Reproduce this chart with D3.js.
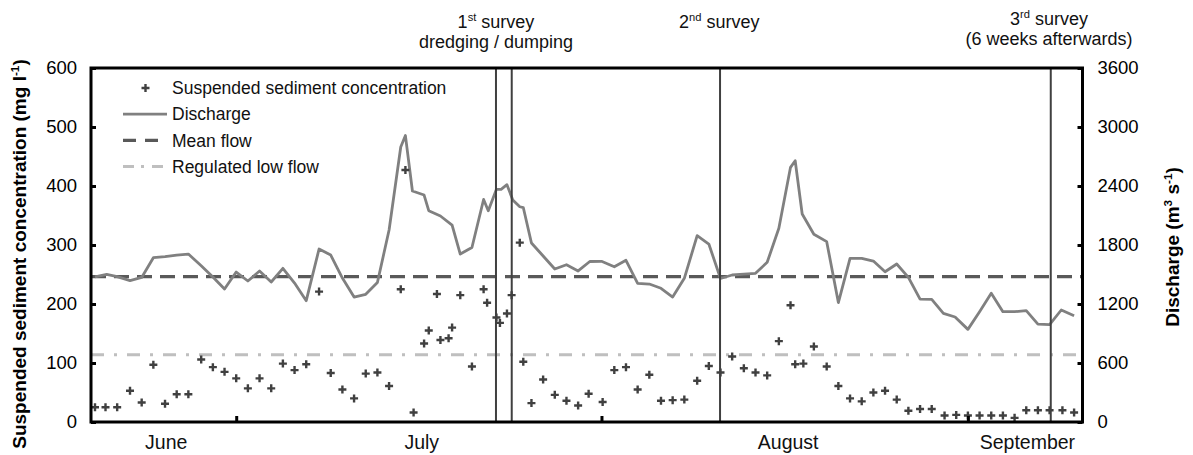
<!DOCTYPE html>
<html lang="en">
<head>
  <meta charset="UTF-8">
  <title>Suspended sediment concentration and discharge</title>
  <script src="https://d3js.org/d3.v7.min.js"></script>
  <style>
    body { margin: 0; background: #fff; }
    svg { display: block; font-family: "Liberation Sans", Arial, sans-serif; }
  </style>
</head>
<body>
<div id="chart"></div>
<script>
  // suspended sediment samples: day of record and concentration (mg l-1)
  var sscDays = [0, 0.9, 1.9, 3, 4, 5, 6, 7, 8, 9.1, 10.1, 11.1, 12.1, 13.1, 14.1, 15.1, 16.1, 17.1, 18.1,
    19.2, 20.2, 21.2, 22.2, 23.2, 24.2, 25.2, 26.2, 26.6, 27.3, 28.2, 28.6, 29.3, 29.6, 30.3, 30.6, 31.3,
    32.3, 33.3, 33.6, 34.4, 34.7, 35.3, 35.7, 36.4, 36.7, 37.4, 38.4, 39.4, 40.4, 41.4, 42.3, 43.5, 44.5,
    45.5, 46.5, 47.5, 48.5, 49.5, 50.5, 51.6, 52.6, 53.6, 54.6, 55.6, 56.6, 57.6, 58.6, 59.6, 60, 60.7,
    61.6, 62.7, 63.7, 64.7, 65.7, 66.7, 67.7, 68.7, 69.7, 70.7, 71.7, 72.8, 73.8, 74.8, 75.8, 76.8, 77.8,
    78.8, 79.8, 80.8, 81.8, 82.9, 83.9];
  var sscValues = [25, 25, 25, 53, 33, 97, 31, 47, 47, 106, 93, 85, 74, 57, 74, 57, 99, 88, 98,
    221, 83, 55, 40, 82, 84, 61, 225, 427, 16, 133, 155, 217, 139, 142, 160, 215,
    94, 225, 202, 177, 168, 184, 215, 304, 102, 32, 72, 46, 36, 28, 48, 34, 88,
    93, 55, 80, 36, 37, 38, 70, 95, 84, 111, 91, 84, 79, 137, 198, 98, 99,
    128, 94, 61, 40, 35, 50, 53, 38, 19, 22, 22, 11, 12, 11, 11, 11, 11,
    7, 20, 20, 20, 20, 16];

  // discharge (m3 s-1)
  var flowDays = [0, 1, 1.9, 3, 4, 5, 6, 7, 8, 9.1, 10.1, 11.1, 12.1, 13.1, 14.1, 15.1, 16.1, 17.1, 18.1,
    19.2, 20.2, 21.2, 22.2, 23.2, 24.2, 25.2, 26.2, 26.6, 27.2, 28.2, 28.6, 29.6, 30.6, 31.3, 32.3, 33.3,
    33.7, 34.4, 34.8, 35.3, 35.8, 36.4, 36.7, 37.4, 38.4, 39.4, 40.4, 41.4, 42.4, 43.4, 44.5, 45.5, 46.5,
    47.5, 48.5, 49.5, 50.5, 51.6, 52.6, 53.6, 54.6, 55.6, 56.6, 57.6, 58.6, 59.6, 60, 60.6, 61.6, 62.7,
    63.7, 64.7, 65.7, 66.7, 67.7, 68.7, 69.7, 70.7, 71.7, 72.7, 73.7, 74.8, 75.8, 76.8, 77.8, 78.8, 79.8,
    80.8, 81.8, 82.8, 83.9];
  var flowValues = [1475, 1502, 1478, 1437, 1470, 1671, 1681, 1698, 1708, 1589, 1475, 1352, 1525, 1434, 1535, 1424, 1563, 1413, 1234,
    1759, 1698, 1464, 1271, 1299, 1419, 1952, 2797, 2913, 2349, 2308, 2149, 2095, 2003, 1708, 1775, 2263,
    2149, 2366, 2366, 2413, 2258, 2189, 2181, 1820, 1688, 1556, 1599, 1536, 1632, 1634, 1579, 1644, 1410,
    1403, 1360, 1271, 1461, 1895, 1810, 1459, 1495, 1503, 1512, 1624, 1970, 2590, 2657, 2115, 1910, 1834,
    1215, 1665, 1665, 1637, 1528, 1607, 1470, 1249, 1248, 1105, 1068, 942, 1122, 1309, 1122, 1122, 1132,
    995, 990, 1139, 1080];

  var meanFlow = 1478;
  var lowFlow = 685;

  // survey dates (day of record)
  var surveyDays = [34.36, 35.71, 53.56, 81.9];
  var surveyLabelDays = [34.36, 53.5, 81.75];
  var surveyNumbers = ["1", "2", "3"];
  var surveySuffixes = ["st", "nd", "rd"];
  var surveyNotes = ["dredging / dumping", "", "(6 weeks afterwards)"];

  // axis ticks and labels
  var sscTicks = [0, 100, 200, 300, 400, 500, 600];
  var flowTicks = [0, 600, 1200, 1800, 2400, 3000, 3600];
  var monthTickDays = [12.1, 43.4, 74.8];
  var monthNames = ["June", "July", "August", "September"];
  var monthLabelDays = [6.1, 28.0, 59.4, 79.9];
  var legendNames = ["Suspended sediment concentration", "Discharge", "Mean flow", "Regulated low flow"];

  var width = 1193, height = 455;
  var plot = { left: 91, right: 1082.5, top: 68, bottom: 422 };

  var svg = d3.select("#chart")
    .append("svg")
    .attr("width", width)
    .attr("height", height);

  svg.append("rect").attr("width", width).attr("height", height).attr("fill", "#fff");

  // scales
  var x = d3.scaleLinear().domain([-0.343, 84.62]).range([plot.left, plot.right]);
  var yLeft = d3.scaleLinear().domain([0, 600]).range([plot.bottom, plot.top]);
  var yRight = d3.scaleLinear().domain([0, 3600]).range([plot.bottom, plot.top]);

  // write text with superscript parts: parts = [[string, isSup], ...]
  function richText(sel, parts, size) {
    var lift = size * 0.38, raised = false;
    parts.forEach(function(p) {
      var ts = sel.append("tspan").text(p[0]);
      if (p[1]) {
        ts.attr("font-size", size * 0.62).attr("dy", -lift);
        raised = true;
      } else {
        ts.attr("font-size", size);
        if (raised) { ts.attr("dy", lift); raised = false; }
      }
    });
  }

  // reference flows
  svg.append("line")
    .attr("x1", plot.left).attr("x2", plot.right)
    .attr("y1", yRight(lowFlow)).attr("y2", yRight(lowFlow))
    .attr("stroke", "#bfbfbf").attr("stroke-width", 3)
    .attr("stroke-dasharray", "13,10,3,10");
  svg.append("line")
    .attr("x1", plot.left).attr("x2", plot.right)
    .attr("y1", yRight(meanFlow)).attr("y2", yRight(meanFlow))
    .attr("stroke", "#595959").attr("stroke-width", 3.2)
    .attr("stroke-dasharray", "15,8");

  // discharge line
  var flowLine = d3.line()
    .x(function(d, i) { return x(flowDays[i]); })
    .y(function(d) { return yRight(d); });
  svg.append("path")
    .datum(flowValues)
    .attr("fill", "none")
    .attr("stroke", "#808080")
    .attr("stroke-width", 2.8)
    .attr("stroke-linejoin", "round")
    .attr("d", flowLine);

  // survey lines
  svg.selectAll(".survey")
    .data(surveyDays)
    .enter().append("line")
    .attr("class", "survey")
    .attr("x1", function(d) { return x(d); })
    .attr("x2", function(d) { return x(d); })
    .attr("y1", plot.top).attr("y2", plot.bottom)
    .attr("stroke", "#404040").attr("stroke-width", 2);

  // sediment samples as crosses
  var cross = "M-4,0H4M0,-4V4";
  svg.selectAll(".ssc")
    .data(sscValues)
    .enter().append("path")
    .attr("class", "ssc")
    .attr("d", cross)
    .attr("transform", function(d, i) { return "translate(" + x(sscDays[i]) + "," + yLeft(d) + ")"; })
    .attr("stroke", "#404040")
    .attr("stroke-width", 2.4);

  // left axis
  var leftAxis = svg.append("g")
    .attr("transform", "translate(" + plot.left + ",0)")
    .call(d3.axisLeft(yLeft).tickValues(sscTicks).tickSize(-5).tickPadding(14));
  // right axis
  var rightAxis = svg.append("g")
    .attr("transform", "translate(" + plot.right + ",0)")
    .call(d3.axisRight(yRight).tickValues(flowTicks).tickSize(-5).tickPadding(15)
      .tickFormat(d3.format("d")));
  // bottom ticks (no labels)
  var bottomAxis = svg.append("g")
    .attr("transform", "translate(0," + plot.bottom + ")")
    .call(d3.axisBottom(x).tickValues(monthTickDays).tickSize(-6).tickFormat(""));

  [leftAxis, rightAxis, bottomAxis].forEach(function(g) {
    g.select(".domain").remove();
    g.selectAll(".tick line").attr("stroke", "#000").attr("stroke-width", 3);
    g.selectAll(".tick text")
      .attr("font-family", "Liberation Sans, Arial, sans-serif")
      .attr("font-size", 18.5)
      .attr("fill", "#000");
  });
  bottomAxis.selectAll(".tick text").remove();

  // frame
  svg.append("rect")
    .attr("x", plot.left).attr("y", plot.top)
    .attr("width", plot.right - plot.left)
    .attr("height", plot.bottom - plot.top)
    .attr("fill", "none")
    .attr("stroke", "#000")
    .attr("stroke-width", 3);

  // month labels
  svg.selectAll(".month")
    .data(monthNames)
    .enter().append("text")
    .attr("class", "month")
    .attr("x", function(d, i) { return x(monthLabelDays[i]); })
    .attr("y", 449)
    .attr("text-anchor", "middle")
    .attr("font-size", 19.5)
    .attr("fill", "#111")
    .text(function(d) { return d; });

  // survey labels above the plot
  surveyNumbers.forEach(function(n, i) {
    var cx = x(surveyLabelDays[i]);
    var t = svg.append("text")
      .attr("x", cx).attr("y", i == 2 ? 25 : 28)
      .attr("text-anchor", "middle")
      .attr("fill", "#111");
    richText(t, [[n, false], [surveySuffixes[i], true], [" survey", false]], 18);
    if (surveyNotes[i]) {
      svg.append("text")
        .attr("x", cx).attr("y", i == 2 ? 44.5 : 48)
        .attr("text-anchor", "middle")
        .attr("font-size", 18)
        .attr("fill", "#111")
        .text(surveyNotes[i]);
    }
  });

  // legend
  var legend = svg.selectAll(".legend")
    .data(legendNames)
    .enter().append("g")
    .attr("class", "legend")
    .attr("transform", function(d, i) { return "translate(123," + (88 + i * 26.2) + ")"; });

  legend.append("text")
    .attr("x", 49)
    .attr("dy", "0.35em")
    .attr("font-size", 17.5)
    .attr("fill", "#111")
    .text(function(d) { return d; });

  legend.filter(function(d, i) { return i == 0; })
    .append("path")
    .attr("d", cross)
    .attr("transform", "translate(22.5,0)")
    .attr("stroke", "#404040")
    .attr("stroke-width", 2.4);

  var legendStyles = [null,
    { color: "#808080", width: 2.8, dash: null },
    { color: "#595959", width: 3.2, dash: "13,9" },
    { color: "#bfbfbf", width: 3, dash: "11,7,3,8" }];
  legend.filter(function(d, i) { return i > 0; })
    .append("line")
    .attr("x1", 0).attr("x2", 44)
    .attr("stroke", function(d) { return legendStyles[legendNames.indexOf(d)].color; })
    .attr("stroke-width", function(d) { return legendStyles[legendNames.indexOf(d)].width; })
    .attr("stroke-dasharray", function(d) { return legendStyles[legendNames.indexOf(d)].dash; });

  // axis titles
  var leftTitle = svg.append("text")
    .attr("transform", "translate(26," + 254 + ") rotate(-90)")
    .attr("text-anchor", "middle")
    .attr("font-weight", "bold")
    .attr("fill", "#000");
  richText(leftTitle, [["Suspended sediment concentration (mg l", false], ["-1", true], [")", false]], 19);

  var rightTitle = svg.append("text")
    .attr("transform", "translate(1179," + 247 + ") rotate(-90)")
    .attr("text-anchor", "middle")
    .attr("font-weight", "bold")
    .attr("fill", "#000");
  richText(rightTitle, [["Discharge (m", false], ["3", true], [" s", false], ["-1", true], [")", false]], 19);
</script>
</body>
</html>
